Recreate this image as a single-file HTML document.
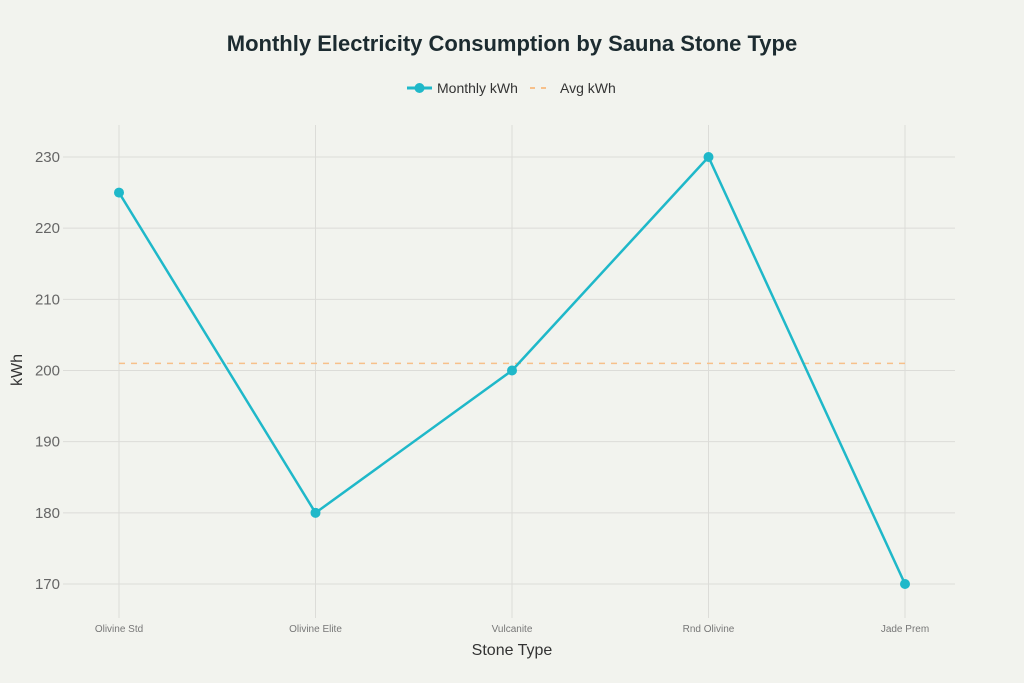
<!DOCTYPE html>
<html><head><meta charset="utf-8"><style>
body{margin:0;background:#f2f3ee;}
svg{display:block;font-family:"Liberation Sans",sans-serif;}
</style></head><body>
<svg id="c" width="1024" height="683">
<rect width="1024" height="683" fill="#f2f3ee"/>
<text x="512" y="51" text-anchor="middle" font-size="22" font-weight="bold" fill="#1c2b30">Monthly Electricity Consumption by Sauna Stone Type</text>
<g>
<g>
<line x1="407" y1="88" x2="432" y2="88" stroke="#1fb8c9" stroke-width="3"/>
<circle cx="419.5" cy="88" r="5" fill="#1fb8c9"/>
<text x="437" y="93" font-size="14" fill="#333">Monthly kWh</text></g>
<g>
<line x1="530" y1="88" x2="550" y2="88" stroke="#f7c08a" stroke-width="2" stroke-dasharray="5,6"/>
<text x="560" y="93" font-size="14" fill="#333">Avg kWh</text></g>
</g>
<g id="grid"></g><g id="marks"></g>
<text x="512" y="655" text-anchor="middle" font-size="16" fill="#333">Stone Type</text>
<text transform="translate(22,370) rotate(-90)" text-anchor="middle" font-size="16" fill="#333">kWh</text>
</svg>
<script>
const categories=["Olivine Std","Olivine Elite","Vulcanite","Rnd Olivine","Jade Prem"];
const monthly=[225,180,200,230,170];
const avgValue=201;
const yTicks=[170,180,190,200,210,220,230];
const NS="http://www.w3.org/2000/svg";
const x=i=>119+i*196.5;
const y=v=>584-(v-170)*(427/60);
function mk(t,a,p){const e=document.createElementNS(NS,t);for(const k in a)e.setAttribute(k,a[k]);p.appendChild(e);return e;}
const g=document.getElementById('grid'),m=document.getElementById('marks');
yTicks.forEach(v=>{
 const l=mk('line',{x1:63,x2:955,y1:y(v),y2:y(v),stroke:'#dcdcd8','stroke-width':1},g);
 
 
 const t=mk('text',{x:60,y:y(v)+5,'text-anchor':'end','font-size':15,fill:'#666'},g);t.textContent=v;
 
 
});
categories.forEach((c,i)=>{
 const l=mk('line',{x1:x(i),x2:x(i),y1:125,y2:618,stroke:'#dcdcd8','stroke-width':1},g);
 
 
 const t=mk('text',{x:x(i),y:632,'text-anchor':'middle','font-size':10,fill:'#777'},g);t.textContent=c;
 
 
});
const a=mk('line',{x1:x(0),x2:x(4),y1:y(avgValue),y2:y(avgValue),stroke:'#f7c08a','stroke-width':1.5,'stroke-dasharray':'6,6'},m);


const pl=mk('polyline',{points:monthly.map((v,i)=>x(i)+','+y(v)).join(' '),fill:'none',stroke:'#1fb8c9','stroke-width':2.5},m);


monthly.forEach((v,i)=>{
 const c=mk('circle',{cx:x(i),cy:y(v),r:5,fill:'#1fb8c9'},m);
 
 
});
</script>
</body></html>
